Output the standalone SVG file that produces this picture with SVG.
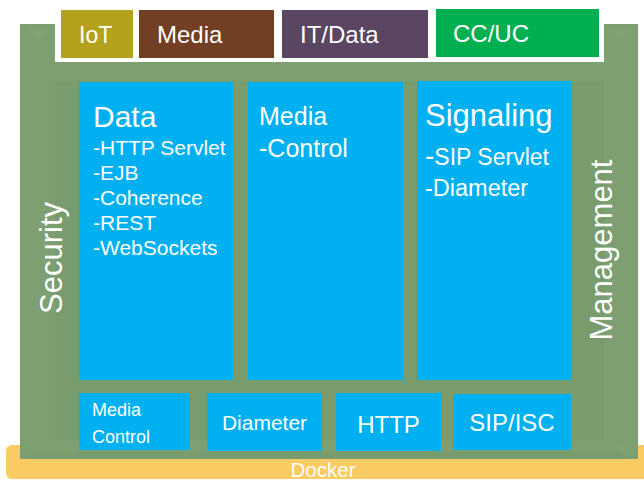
<svg xmlns="http://www.w3.org/2000/svg" width="644" height="480" viewBox="0 0 644 480">
<style>
text{font-family:"Liberation Sans",Arial,sans-serif;fill:#fff}
.blue{fill:#00B0F0}
.shade{fill:#ffffff;opacity:0.04}
</style>
<rect x="0" y="0" width="644" height="480" fill="#fff"/>
<g id="docker">
<rect x="6" y="445" width="648" height="34" rx="6" fill="#F9CB62"/>
<text x="323" y="477" font-size="20.5" text-anchor="middle" fill="#FFF6E0">Docker</text>
</g>
<g id="platform">
<path d="M20 24 H55 V62 H604 V24 H638 V459 H20 Z" fill="#789C6C"/>
<path class="shade" d="M20 24 H55 V440 L27 452 V459 H20 Z"/>
<path class="shade" d="M604 24 H638 V459 H630 L604 440 Z"/>
<rect class="shade" x="55" y="62" width="549" height="19"/>
<path class="shade" d="M27 452 L55 440 H604 L630 452 Z"/>
<path d="M26 30 H50 L38 38 Z" fill="#ffffff" opacity="0.05"/>
<path d="M608 30 H632 L620 38 Z" fill="#ffffff" opacity="0.05"/>
</g>
<g id="security">
<text transform="translate(62 258) rotate(-90)" font-size="31" text-anchor="middle">Security</text>
</g>
<g id="management">
<text transform="translate(612 250) rotate(-90)" font-size="31" text-anchor="middle">Management</text>
</g>
<g id="iot">
<rect x="61" y="10" width="72" height="48" fill="#B4A21D"/>
<text x="79" y="43" font-size="23">IoT</text>
</g>
<g id="media-top">
<rect x="139" y="10" width="135" height="48" fill="#723F25"/>
<text x="157" y="43" font-size="24">Media</text>
</g>
<g id="itdata">
<rect x="282" y="10" width="146" height="48" fill="#5A4563"/>
<text x="300" y="43" font-size="24">IT/Data</text>
</g>
<g id="ccuc">
<rect x="436" y="9" width="163" height="48" fill="#00B050"/>
<text x="453" y="42" font-size="24">CC/UC</text>
</g>
<g id="data">
<rect class="blue" x="79" y="82" width="154" height="298"/>
<text x="93" y="127" font-size="30">Data</text>
<text x="93" y="155" font-size="21">-HTTP Servlet</text>
<text x="93" y="180" font-size="21">-EJB</text>
<text x="93" y="205" font-size="21">-Coherence</text>
<text x="93" y="230" font-size="21">-REST</text>
<text x="93" y="255" font-size="21">-WebSockets</text>
</g>
<g id="media">
<rect class="blue" x="248" y="82" width="155" height="298"/>
<text x="259" y="125" font-size="25">Media</text>
<text x="259" y="157" font-size="25">-Control</text>
</g>
<g id="signaling">
<rect class="blue" x="417" y="81" width="155" height="299"/>
<text x="425" y="126" font-size="31">Signaling</text>
<text x="425" y="165" font-size="23"><tspan font-size="28">-</tspan>SIP Servlet</text>
<text x="425" y="196" font-size="23.5">-Diameter</text>
</g>
<g id="media-control">
<rect class="blue" x="79" y="393" width="111" height="57"/>
<text x="92" y="416" font-size="18">Media</text>
<text x="92" y="443" font-size="18">Control</text>
</g>
<g id="diameter">
<rect class="blue" x="207" y="393" width="115" height="58"/>
<text x="264.5" y="430" font-size="21" text-anchor="middle">Diameter</text>
</g>
<g id="http">
<rect class="blue" x="336" y="393" width="105" height="58"/>
<text x="388.5" y="433" font-size="24" text-anchor="middle">HTTP</text>
</g>
<g id="sipisc">
<rect class="blue" x="453" y="394" width="118" height="56" rx="2"/>
<text x="512" y="431" font-size="24" text-anchor="middle">SIP/ISC</text>
</g>
<g id="connectors"></g>
</svg>
